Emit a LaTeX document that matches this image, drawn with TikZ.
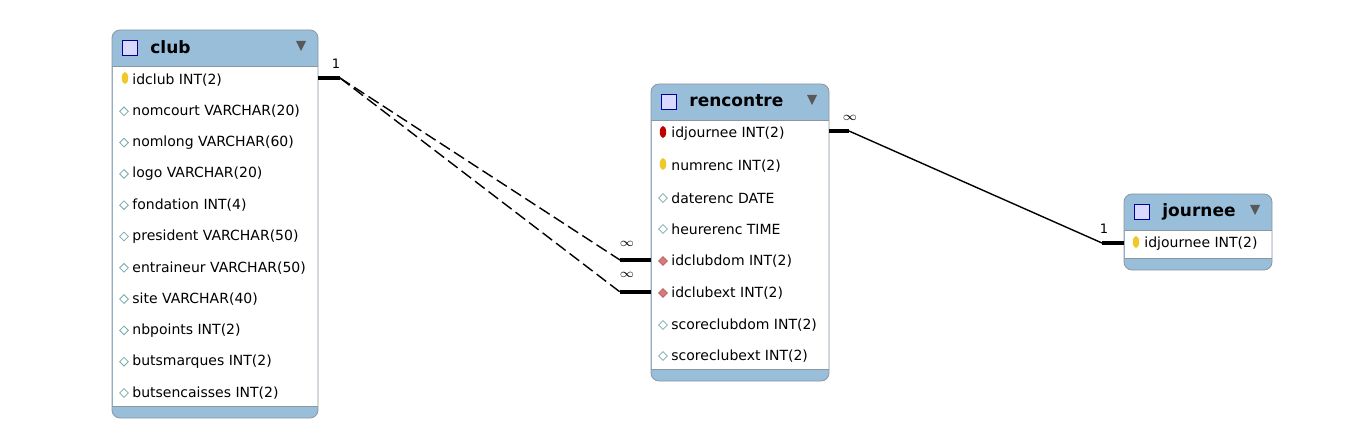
\documentclass[tikz,border=0pt]{standalone}
\usepackage{fontspec}
\setmainfont{DejaVu Sans}
\usetikzlibrary{positioning,shapes.geometric}
\definecolor{hdr}{RGB}{152,190,218}
\definecolor{edge}{RGB}{140,150,160}
\definecolor{keyc}{RGB}{240,200,40}
\definecolor{fkc}{RGB}{220,120,120}
\definecolor{attc}{RGB}{120,170,170}
\tikzset{>=stealth}
\tikzstyle{every node}=[inner sep=0pt]
\tikzstyle{row}=[anchor=west,font=\fontsize{7}{8}\selectfont]
\tikzstyle{title}=[anchor=west,font=\fontsize{8.5}{10}\bfseries]
\tikzstyle{att}=[diamond,draw=attc,fill=white,minimum size=4.5pt,line width=0.4pt]
\tikzstyle{fk}=[diamond,draw=fkc!80!black,fill=fkc,minimum size=4.5pt,line width=0.4pt]
\tikzstyle{pk}=[ellipse,fill=keyc,minimum width=3.2pt,minimum height=6pt]
\tikzstyle{card}=[font=\fontsize{6.5}{7}\selectfont]
\tikzstyle{rel}=[line width=0.7pt]
\newcommand{\tablebox}[5]{% x1, ytop, x2, yheaderbottom, ybottom
  \fill[hdr,rounded corners=4pt] (#1,#2) rectangle (#3,#5);
  \fill[white] (#1+0.5,#4) rectangle (#3-0.5,#5-12);
  \draw[edge,rounded corners=4pt] (#1,#2) rectangle (#3,#5);
  \draw[edge] (#1,#4) -- (#3,#4);
  \draw[edge] (#1,#5-12) -- (#3,#5-12);
  \draw[blue!60!black,fill=blue!15] (#1+10,#2+10) rectangle (#1+25,#2+25);
  \fill[gray!70!black] (#3-22,#2+11) -- (#3-12,#2+11) -- (#3-17,#2+21) -- cycle;
}
\begin{document}
\begin{tikzpicture}[x=0.5pt,y=-0.5pt]
\useasboundingbox (0,0) rectangle (1356,433);

% club
\tablebox{112}{30}{318}{66}{418}
\node[title] (clubt) at (150,47) {club};
\foreach \nm/\txt [count=\i] in {nomcourt/nomcourt VARCHAR(20), nomlong/nomlong VARCHAR(60),
  logo/logo VARCHAR(20), fondation/fondation INT(4), president/president VARCHAR(50),
  entraineur/entraineur VARCHAR(50), site/site VARCHAR(40), nbpoints/nbpoints INT(2),
  butsmarques/butsmarques INT(2), butsencaisses/butsencaisses INT(2)}{
  \node[att] at (124,80+31.3*\i) {};
  \node[row] (\nm) at (132,80+31.3*\i) {\txt};
}
\node[pk] at (125,78) {};
\node[row] (idclub) at (132,80) {idclub INT(2)};

% rencontre
\tablebox{651}{84}{829}{120}{381}
\node[title] (renct) at (689,101) {rencontre};
\node[pk,fill=red!75!black] at (663,132) {};
\node[row] (idjournee) at (671,134) {idjournee INT(2)};
\node[pk] at (663,164) {};
\node[row] (numrenc) at (671,166) {numrenc INT(2)};
\node[att] at (663,198) {};
\node[row] (daterenc) at (671,198) {daterenc DATE};
\node[att] at (663,229) {};
\node[row] (heurerenc) at (671,229) {heurerenc TIME};
\node[fk] at (663,261) {};
\node[row] (idclubdom) at (671,261) {idclubdom INT(2)};
\node[fk] at (663,293) {};
\node[row] (idclubext) at (671,293) {idclubext INT(2)};
\node[att] at (663,325) {};
\node[row] (scoredom) at (671,325) {scoreclubdom INT(2)};
\node[att] at (663,356) {};
\node[row] (scoreext) at (671,356) {scoreclubext INT(2)};

% journee
\tablebox{1124}{194}{1272}{230}{270}
\node[title] (journt) at (1162,212) {journee};
\node[pk] at (1136,242) {};
\node[row] (jidjournee) at (1144,244) {idjournee INT(2)};

% relations
\coordinate (c1) at (318,78);
\coordinate (c2) at (340,78);
\coordinate (d1) at (620,260);
\coordinate (d2) at (651,260);
\coordinate (e1) at (620,292);
\coordinate (e2) at (651,292);
\draw[line width=1.6pt] (c1) -- (c2);
\draw[line width=1.6pt] (d1) -- (d2);
\draw[line width=1.6pt] (e1) -- (e2);
\draw[rel,dash pattern=on 6pt off 2.5pt] (c2) -- (d1);
\draw[rel,dash pattern=on 6pt off 2.5pt] (c2) -- (e1);
\node[card] (one1) at (336,64) {1};
\node[card] (inf1) at (627,244) {$\infty$};
\node[card] (inf2) at (627,275) {$\infty$};

\coordinate (f1) at (829,131);
\coordinate (f2) at (849,131);
\coordinate (g1) at (1102,243);
\coordinate (g2) at (1124,243);
\draw[line width=1.6pt] (f1) -- (f2);
\draw[line width=1.6pt] (g1) -- (g2);
\draw[rel] (f2) -- (g1);
\node[card] (inf3) at (850,118) {$\infty$};
\node[card] (one2) at (1104,229) {1};
\end{tikzpicture}
\end{document}
